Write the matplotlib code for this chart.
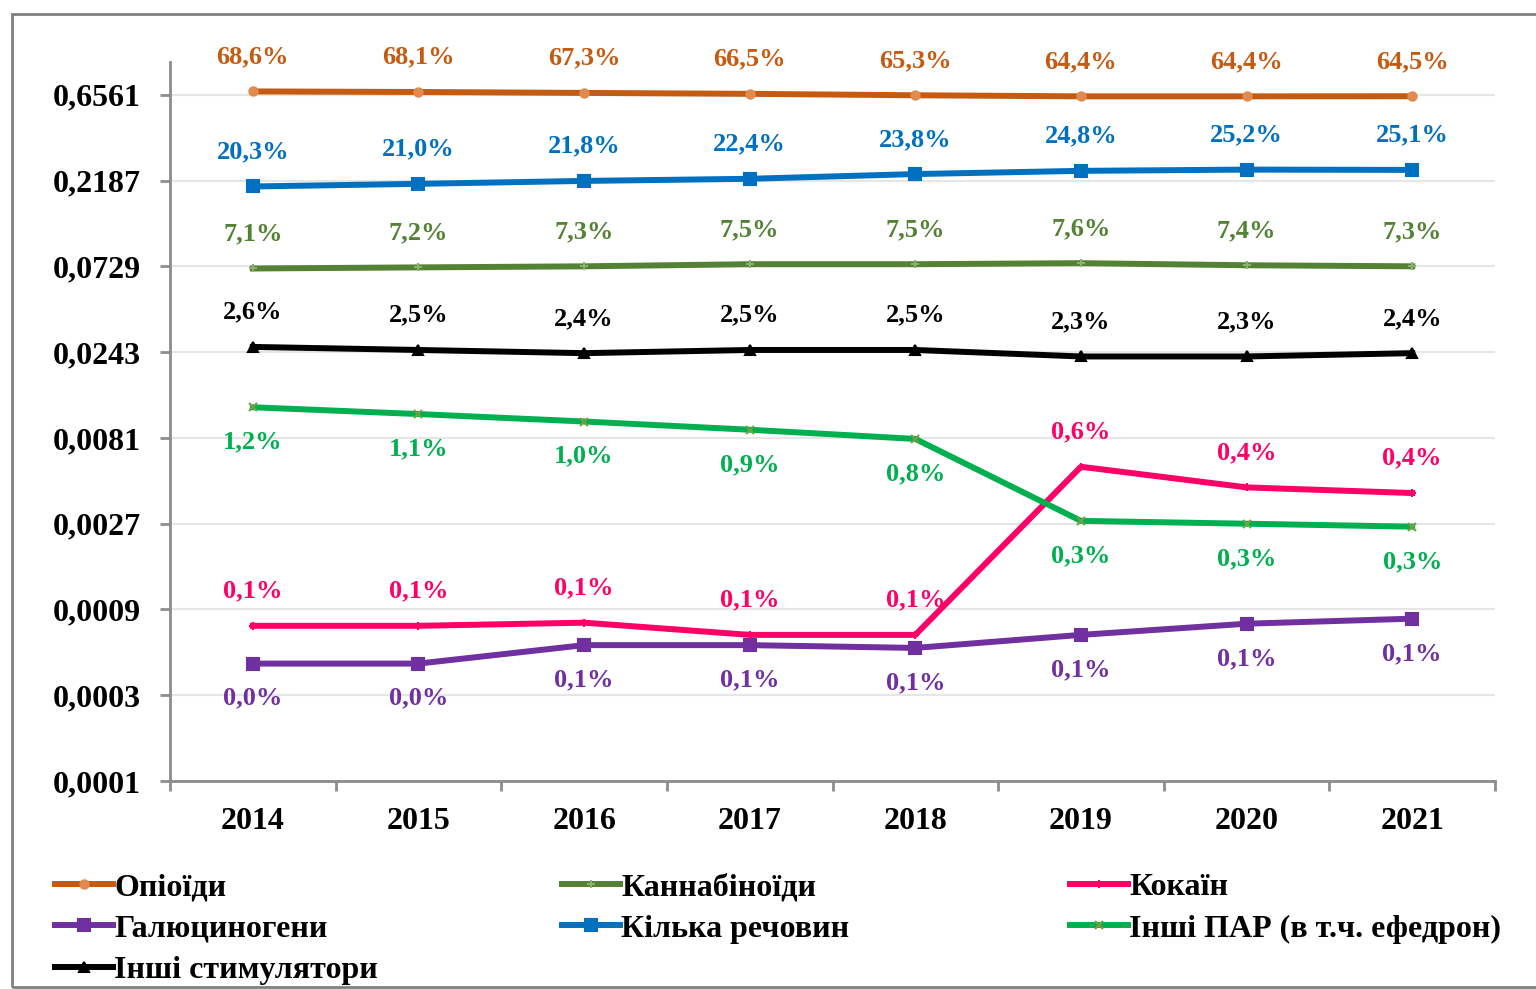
import matplotlib.pyplot as plt
from matplotlib.patches import Rectangle
from matplotlib.ticker import FixedLocator, NullFormatter

plt.rcParams['font.family'] = ['Liberation Serif', 'DejaVu Serif']
plt.rcParams['font.weight'] = 'bold'

years = ["2014", "2015", "2016", "2017", "2018", "2019", "2020", "2021"]

opioids = [0.686, 0.681, 0.673, 0.665, 0.653, 0.644, 0.644, 0.645]
opioids_lbl = ["68,6%", "68,1%", "67,3%", "66,5%", "65,3%", "64,4%", "64,4%", "64,5%"]

several = [0.203, 0.210, 0.218, 0.224, 0.238, 0.248, 0.252, 0.251]
several_lbl = ["20,3%", "21,0%", "21,8%", "22,4%", "23,8%", "24,8%", "25,2%", "25,1%"]

cannab = [0.071, 0.072, 0.073, 0.075, 0.075, 0.076, 0.074, 0.073]
cannab_lbl = ["7,1%", "7,2%", "7,3%", "7,5%", "7,5%", "7,6%", "7,4%", "7,3%"]

stimul = [0.026, 0.025, 0.024, 0.025, 0.025, 0.023, 0.023, 0.024]
stimul_lbl = ["2,6%", "2,5%", "2,4%", "2,5%", "2,5%", "2,3%", "2,3%", "2,4%"]

other = [0.012, 0.011, 0.010, 0.009, 0.008, 0.0028, 0.0027, 0.0026]
other_lbl = ["1,2%", "1,1%", "1,0%", "0,9%", "0,8%", "0,3%", "0,3%", "0,3%"]

cocaine = [0.00073, 0.00073, 0.00076, 0.00065, 0.00065, 0.0056, 0.0043, 0.0040]
cocaine_lbl = ["0,1%", "0,1%", "0,1%", "0,1%", "0,1%", "0,6%", "0,4%", "0,4%"]

halluc = [0.00045, 0.00045, 0.00057, 0.00057, 0.00055, 0.00065, 0.00075, 0.0008]
halluc_lbl = ["0,0%", "0,0%", "0,1%", "0,1%", "0,1%", "0,1%", "0,1%", "0,1%"]

y_ticks = [0.0001, 0.0003, 0.0009, 0.0027, 0.0081, 0.0243, 0.0729, 0.2187, 0.6561]
y_tick_lbl = ["0,0001", "0,0003", "0,0009", "0,0027", "0,0081", "0,0243", "0,0729", "0,2187", "0,6561"]

# name, values, labels, colour, marker, marker size, marker colour, label side
series = [
    ("Опіоїди", opioids, opioids_lbl, "#C55A11", "o", 6, "#E08A50", 1),
    ("Галюциногени", halluc, halluc_lbl, "#7030A0", "s", 8, "#7030A0", -1),
    ("Інші стимулятори", stimul, stimul_lbl, "#000000", "^", 7, "#000000", 1),
    ("Каннабіноїди", cannab, cannab_lbl, "#548235", "+", 6, "#8CB070", 1),
    ("Кілька речовин", several, several_lbl, "#0070C0", "s", 8, "#0070C0", 1),
    ("Кокаїн", cocaine, cocaine_lbl, "#FF0066", "+", 6, "#FF0066", 1),
    ("Інші ПАР (в т.ч. ефедрон)", other, other_lbl, "#00B050", "x", 6, "#70A040", -1),
]

fig = plt.figure(figsize=(15.36, 9.89), dpi=100)
ax = fig.add_axes([170 / 1536, 1 - 781 / 989, 1325 / 1536, 719 / 989])

x = list(range(len(years)))
handles = []
for name, vals, lbls, col, mk, ms, mcol, side in series:
    h, = ax.plot(x, vals, color=col, lw=4.3, marker=mk, markersize=ms,
                 markerfacecolor=mcol, markeredgecolor=mcol, markeredgewidth=1.5,
                 label=name, zorder=3)
    handles.append(h)
    for xi, v, t in zip(x, vals, lbls):
        ax.annotate(t, (xi, v), xytext=(0, 25 * side), textcoords="offset points",
                    ha="center", va="center", fontsize=19, fontweight="bold",
                    color=col, zorder=4)

ax.set_yscale("log")
ax.set_ylim(0.0001, 1.0)
ax.set_xlim(-0.5, 7.5)
ax.yaxis.set_major_locator(FixedLocator(y_ticks))
ax.set_yticklabels(y_tick_lbl)
ax.yaxis.set_minor_locator(FixedLocator([]))
ax.yaxis.set_minor_formatter(NullFormatter())
ax.set_xticks(x)
ax.set_xticklabels(years)
ax.set_xticks([i - 0.5 for i in range(len(years) + 1)], minor=True)

ax.grid(axis="y", color="#E6E6E6", lw=1.5, zorder=0)
for s in ["top", "right"]:
    ax.spines[s].set_visible(False)
for s in ["left", "bottom"]:
    ax.spines[s].set_color("#8C8C8C")
    ax.spines[s].set_linewidth(2)

ax.tick_params(axis="y", which="major", length=7, width=2, color="#8C8C8C",
               labelsize=23, pad=14)
ax.tick_params(axis="x", which="major", length=0, labelsize=23, pad=19)
ax.tick_params(axis="x", which="minor", length=7, width=2, color="#8C8C8C")
for t in ax.get_xticklabels() + ax.get_yticklabels():
    t.set_fontweight("bold")

# legend laid out in three fixed columns, row-major like the original
cols = [(handles[0:3], 55), (handles[3:5], 562), (handles[5:7], 1070)]
for hs, px in cols:
    fig.legend(handles=hs, loc="upper left",
               bbox_to_anchor=(px / 1536, 1 - 873 / 989),
               frameon=False, ncol=1, handlelength=1.8, handletextpad=0.05,
               borderpad=0, borderaxespad=0, labelspacing=0.37,
               prop={"family": "Liberation Serif", "weight": "bold", "size": 23})

fig.patches.append(Rectangle((12 / 1536, 2 / 989), 1.1, 973 / 989,
                             transform=fig.transFigure, fill=False,
                             edgecolor="#808080", lw=2))

fig.savefig("out.png", dpi=100)
